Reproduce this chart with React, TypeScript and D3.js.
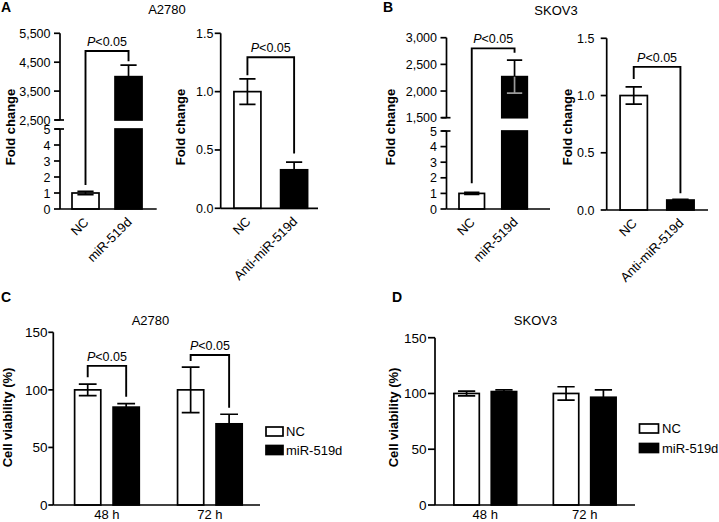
import React from 'react';
import * as d3 from 'd3';

const FONT = 'Arial, "Liberation Sans", Helvetica, sans-serif';

// ---------------- data ----------------
const qpcrMiRCategories = ['NC', 'miR-519d'];
const qpcrAntiCategories = ['NC', 'Anti-miR-519d'];

const a2780MiRFold = [1, 4000];
const a2780MiRFoldErr = [0.1, 400];
const a2780AntiFold = [1.0, 0.33];
const a2780AntiFoldErr = [0.11, 0.065];

const skov3MiRFold = [1, 2270];
const skov3MiRFoldErr = [0.07, 310];
const skov3AntiFold = [1.0, 0.087];
const skov3AntiFoldErr = [0.075, 0.006];

const brokenLowTicks = [0, 1, 2, 3, 4, 5];
const a2780HighTicks = [2500, 3500, 4500, 5500];
const skov3HighTicks = [1500, 2000, 2500, 3000];
const foldTicks = [0, 0.5, 1.0, 1.5];

const timePoints = ['48 h', '72 h'];
const treatments = ['NC', 'miR-519d'];
const a2780ViabilityNC = [100, 100];
const a2780ViabilityNCErr = [5, 19.7];
const a2780ViabilityMiR = [85, 70.5];
const a2780ViabilityMiRErr = [3, 8.3];
const skov3ViabilityNC = [100, 100];
const skov3ViabilityNCErr = [2.1, 6];
const skov3ViabilityMiR = [101.7, 96.6];
const skov3ViabilityMiRErr = [1.5, 6.6];
const viabilityTicks = [0, 50, 100, 150];

// significance brackets: [left leg bottom, top, right leg bottom]
const a2780MiRBracket = [1.5, 4890, 4530];
const a2780AntiBracket = [1.14, 1.295, 0.47];
const skov3MiRBracket = [1.65, 2800, 2717];
const skov3AntiBracket = [1.144, 1.25, 0.146];
const a2780ViabilityBrackets = [
  [111, 120.8, 94],
  [125.1, 130.3, 84.5],
];

const pText = '<0.05';
const fills = ['#ffffff', '#000000'];
const SW = 1.7;

// ---------------- helpers ----------------
function Bracket({ xl, xr, yl, yt, yr }: { xl: number; xr: number; yl: number; yt: number; yr: number }) {
  return (
    <g>
      <path d={`M${xl},${yl}V${yt}H${xr}V${yr}`} fill="none" stroke="#000" strokeWidth={1.9} />
      <text x={(xl + xr) / 2} y={yt - 5} textAnchor="middle" fontSize={12.5}>
        <tspan fontStyle="italic">P</tspan>
        {pText}
      </text>
    </g>
  );
}

function ErrorBar({ cx, yv, yUp, yDown, cap, lowColor }: { cx: number; yv: number; yUp: number; yDown: number; cap: number; lowColor: string }) {
  return (
    <g strokeWidth={SW} fill="none">
      <path d={`M${cx},${yv}V${yUp}M${cx - cap / 2},${yUp}H${cx + cap / 2}`} stroke="#000" />
      <path d={`M${cx},${yv}V${yDown}M${cx - cap / 2},${yDown}H${cx + cap / 2}`} stroke={lowColor} />
    </g>
  );
}

type Seg = { domain: [number, number]; range: [number, number]; ticks: number[]; fmt: (n: number) => string };

function QPanel(p: {
  cats: string[];
  values: number[];
  errors: number[];
  xRange: [number, number];
  pIn: number;
  pOut: number;
  align: number;
  segments: Seg[];
  bracket: number[];
  labelX: number;
  tickLen: number;
  innerWhisker?: string;
  titleX: number;
  titleY: number;
}) {
  const x = d3.scaleBand<string>().domain(p.cats).range(p.xRange).paddingInner(p.pIn).paddingOuter(p.pOut).align(p.align);
  const segs = p.segments.map((s) => ({ ...s, scale: d3.scaleLinear().domain(s.domain).range(s.range) }));
  const yMap = (v: number) => {
    for (const s of segs) {
      if (v <= s.domain[1]) return s.scale(Math.max(v, s.domain[0]));
    }
    return segs[segs.length - 1].scale(v);
  };
  const axisX = p.xRange[0];
  const base = segs[0].scale(0);
  const bw = x.bandwidth();
  const cap = bw * 0.6;
  return (
    <g>
      {p.cats.map((c, i) => {
        const v = p.values[i];
        return segs.map((s, k) => {
          const lo = s.domain[0];
          const hi = Math.min(v, s.domain[1]);
          if (hi <= lo) return null;
          return (
            <rect
              key={c + k}
              x={x(c)}
              y={s.scale(hi)}
              width={bw}
              height={s.scale(lo) - s.scale(hi)}
              fill={fills[i]}
              stroke="#000"
              strokeWidth={SW}
            />
          );
        });
      })}
      {p.cats.map((c, i) => {
        const v = p.values[i];
        const e = p.errors[i];
        const cx = (x(c) as number) + bw / 2;
        return (
          <ErrorBar
            key={'e' + c}
            cx={cx}
            yv={yMap(v)}
            yUp={yMap(v + e)}
            yDown={yMap(v - e)}
            cap={cap}
            lowColor={i === 1 ? p.innerWhisker || '#000' : '#000'}
          />
        );
      })}
      {segs.map((s, k) => (
        <g key={'ax' + k}>
          <line x1={axisX} x2={axisX} y1={s.range[0]} y2={s.range[1]} stroke="#000" strokeWidth={SW} />
          {s.ticks.map((t) => (
            <g key={t}>
              <line x1={axisX - p.tickLen} x2={axisX} y1={s.scale(t)} y2={s.scale(t)} stroke="#000" strokeWidth={SW} />
              <text x={p.labelX} y={s.scale(t)} dy="0.36em" textAnchor="end" fontSize={12.5}>
                {s.fmt(t)}
              </text>
            </g>
          ))}
        </g>
      ))}
      {segs.length > 1 && (
        <g stroke="#000" strokeWidth={SW}>
          <line x1={axisX - 5} x2={axisX + 4} y1={segs[0].range[1]} y2={segs[0].range[1]} />
          <line x1={axisX - 5} x2={axisX + 4} y1={segs[1].range[0]} y2={segs[1].range[0]} />
        </g>
      )}
      <line x1={axisX} x2={p.xRange[1]} y1={base} y2={base} stroke="#000" strokeWidth={SW} />
      {p.cats.map((c) => {
        const cx = (x(c) as number) + bw / 2;
        return (
          <text key={'xl' + c} transform={`translate(${cx + 4},${base + 14}) rotate(-45)`} textAnchor="end" fontSize={13}>
            {c}
          </text>
        );
      })}
      <Bracket
        xl={(x(p.cats[0]) as number) + bw / 2}
        xr={(x(p.cats[1]) as number) + bw / 2}
        yl={yMap(p.bracket[0])}
        yt={yMap(p.bracket[1])}
        yr={yMap(p.bracket[2])}
      />
      <text transform={`translate(${p.titleX},${p.titleY}) rotate(-90)`} textAnchor="middle" fontSize={13} fontWeight="bold">
        Fold change
      </text>
    </g>
  );
}

function GroupPanel(p: {
  nc: number[];
  ncErr: number[];
  mir: number[];
  mirErr: number[];
  xRange: [number, number];
  pIn: number;
  pOut: number;
  align: number;
  yRange: [number, number];
  labelX: number;
  tickLen: number;
  brackets?: number[][];
  legendX: number;
  legendY: [number, number];
  boxW: number;
  boxH: number;
  legendTextX: number;
}) {
  const x0 = d3.scaleBand<string>().domain(timePoints).range(p.xRange).paddingInner(p.pIn).paddingOuter(p.pOut).align(p.align);
  const x1 = d3.scaleBand<string>().domain(treatments).range([0, x0.bandwidth()]).paddingInner(0.32).paddingOuter(0);
  const y = d3.scaleLinear().domain([0, 150]).range(p.yRange);
  const axisX = p.xRange[0];
  const base = y(0);
  const bw = x1.bandwidth();
  const series = [
    { vals: p.nc, errs: p.ncErr },
    { vals: p.mir, errs: p.mirErr },
  ];
  return (
    <g>
      {timePoints.map((g, gi) => (
        <g key={g} transform={`translate(${x0(g)},0)`}>
          {treatments.map((t, ti) => {
            const v = series[ti].vals[gi];
            const e = series[ti].errs[gi];
            const cx = (x1(t) as number) + bw / 2;
            return (
              <g key={t}>
                <rect x={x1(t)} y={y(v)} width={bw} height={base - y(v)} fill={fills[ti]} stroke="#000" strokeWidth={SW} />
                <ErrorBar cx={cx} yv={y(v)} yUp={y(v + e)} yDown={y(v - e)} cap={bw * 0.68} lowColor="#000" />
              </g>
            );
          })}
          {p.brackets && (
            <Bracket
              xl={(x1(treatments[0]) as number) + bw / 2}
              xr={(x1(treatments[1]) as number) + bw / 2}
              yl={y(p.brackets[gi][0])}
              yt={y(p.brackets[gi][1])}
              yr={y(p.brackets[gi][2])}
            />
          )}
          <text x={x0.bandwidth() / 2} y={base + 13.5} textAnchor="middle" fontSize={13}>
            {g}
          </text>
        </g>
      ))}
      <line x1={axisX} x2={axisX} y1={y(0)} y2={y(150)} stroke="#000" strokeWidth={SW} />
      {viabilityTicks.map((t) => (
        <g key={t}>
          <line x1={axisX - p.tickLen} x2={axisX} y1={y(t)} y2={y(t)} stroke="#000" strokeWidth={SW} />
          <text x={p.labelX} y={y(t)} dy="0.36em" textAnchor="end" fontSize={13.5}>
            {t}
          </text>
        </g>
      ))}
      <line x1={axisX} x2={p.xRange[1]} y1={base} y2={base} stroke="#000" strokeWidth={SW} />
      {treatments.map((t, ti) => (
        <g key={'lg' + t}>
          <rect x={p.legendX} y={p.legendY[ti]} width={p.boxW} height={p.boxH} fill={fills[ti]} stroke="#000" strokeWidth={SW} />
          <text x={p.legendTextX} y={p.legendY[ti] + p.boxH / 2} dy="0.36em" fontSize={13}>
            {t}
          </text>
        </g>
      ))}
    </g>
  );
}

export default function App() {
  const fmtInt = d3.format('d');
  const fmtComma = d3.format(',');
  const fmt1 = d3.format('.1f');
  return (
    <svg
      width={719}
      height={522}
      viewBox="0 0 719 522"
      style={{ position: 'absolute', left: 0, top: 0, background: '#fff' }}
      fontFamily={FONT}
    >
      <rect width={719} height={522} fill="#fff" />
      <text x={1} y={12} fontSize={14} fontWeight="bold">A</text>
      <text x={383} y={12} fontSize={14} fontWeight="bold">B</text>
      <text x={1} y={302} fontSize={14} fontWeight="bold">C</text>
      <text x={392} y={302} fontSize={14} fontWeight="bold">D</text>
      <text x={167} y={14} fontSize={13} textAnchor="middle">A2780</text>
      <text x={556} y={14.5} fontSize={13} textAnchor="middle">SKOV3</text>
      <text x={150.5} y={325} fontSize={13} textAnchor="middle">A2780</text>
      <text x={535.5} y={325} fontSize={13} textAnchor="middle">SKOV3</text>

      <QPanel
        cats={qpcrMiRCategories}
        values={a2780MiRFold}
        errors={a2780MiRFoldErr}
        xRange={[60, 156.7]}
        pIn={0.372}
        pOut={0.31}
        align={0.45}
        segments={[
          { domain: [0, 5], range: [209, 129], ticks: brokenLowTicks, fmt: fmtInt },
          { domain: [2500, 5500], range: [120, 33.3], ticks: a2780HighTicks, fmt: fmtComma },
        ]}
        bracket={a2780MiRBracket}
        labelX={50.5}
        tickLen={6}
        titleX={15}
        titleY={127}
      />
      <QPanel
        cats={qpcrAntiCategories}
        values={a2780AntiFold}
        errors={a2780AntiFoldErr}
        xRange={[220.7, 318]}
        pIn={0.422}
        pOut={0.253}
        align={0.56}
        segments={[{ domain: [0, 1.5], range: [208.3, 33.3], ticks: foldTicks, fmt: fmt1 }]}
        bracket={a2780AntiBracket}
        labelX={213.5}
        tickLen={6}
        titleX={185}
        titleY={127}
      />
      <QPanel
        cats={qpcrMiRCategories}
        values={skov3MiRFold}
        errors={skov3MiRFoldErr}
        xRange={[446.5, 550]}
        pIn={0.404}
        pOut={0.411}
        align={0.355}
        segments={[
          { domain: [0, 5], range: [209, 131], ticks: brokenLowTicks, fmt: fmtInt },
          { domain: [1500, 3000], range: [117.7, 37.7], ticks: skov3HighTicks, fmt: fmtComma },
        ]}
        bracket={skov3MiRBracket}
        labelX={437}
        tickLen={6}
        innerWhisker="#9a9a9a"
        titleX={395}
        titleY={127}
      />
      <QPanel
        cats={qpcrAntiCategories}
        values={skov3AntiFold}
        errors={skov3AntiFoldErr}
        xRange={[606.7, 708]}
        pIn={0.415}
        pOut={0.292}
        align={0.49}
        segments={[{ domain: [0, 1.5], range: [210, 38.3], ticks: foldTicks, fmt: fmt1 }]}
        bracket={skov3AntiBracket}
        labelX={594.5}
        tickLen={6}
        titleX={571.5}
        titleY={127}
      />

      <GroupPanel
        nc={a2780ViabilityNC}
        ncErr={a2780ViabilityNCErr}
        mir={a2780ViabilityMiR}
        mirErr={a2780ViabilityMiRErr}
        xRange={[53.3, 260]}
        pIn={0.372}
        pOut={0.19}
        align={0.545}
        yRange={[505, 332.3]}
        labelX={47.5}
        tickLen={5}
        brackets={a2780ViabilityBrackets}
        legendX={266}
        legendY={[427, 445.5]}
        boxW={17}
        boxH={9}
        legendTextX={286}
      />
      <text transform="translate(12,417.5) rotate(-90)" textAnchor="middle" fontSize={13} fontWeight="bold">
        Cell viability (%)
      </text>
      <GroupPanel
        nc={skov3ViabilityNC}
        ncErr={skov3ViabilityNCErr}
        mir={skov3ViabilityMiR}
        mirErr={skov3ViabilityMiRErr}
        xRange={[435, 635]}
        pIn={0.369}
        pOut={0.19}
        align={0.5}
        yRange={[505, 337.7]}
        labelX={426.5}
        tickLen={7}
        legendX={639.5}
        legendY={[424, 443.5]}
        boxW={19}
        boxH={9}
        legendTextX={662}
      />
      <text transform="translate(398,417.5) rotate(-90)" textAnchor="middle" fontSize={13} fontWeight="bold">
        Cell viability (%)
      </text>
    </svg>
  );
}
